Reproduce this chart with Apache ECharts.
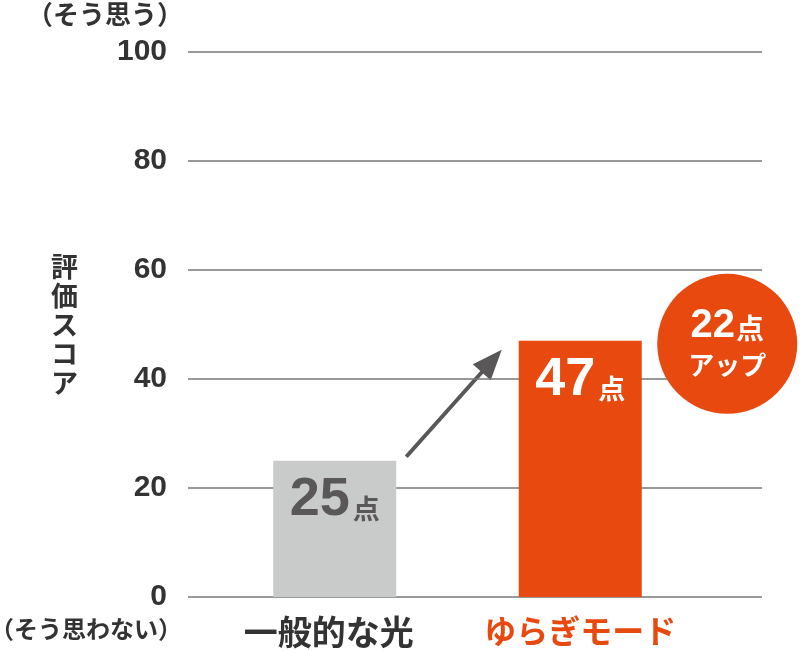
<!DOCTYPE html>
<html>
<head>
<meta charset="utf-8">
<script src="https://cdn.jsdelivr.net/npm/echarts@6/dist/echarts.min.js"></script>
<style>html,body{margin:0;padding:0;background:#fff}#c{width:800px;height:651px}</style>
</head>
<body>
<div id="c"></div>
<script>
const categories = ['一般的な光', 'ゆらぎモード'];
const values = [25, 47];
const yTicks = [0, 20, 40, 60, 80, 100];
const gainText = ['22', '点', 'アップ'];
const yAxisName = '評価スコア';
const topNote = '（そう思う）';
const bottomNote = '（そう思わない）';

const FONT = "'Liberation Sans', 'Noto Sans CJK JP', sans-serif";
const JP = "'Noto Sans CJK JP', sans-serif";
const ORANGE = '#e8490f';
const GRAY = '#c9caca';
const DARK = '#333333';
const MID = '#595757';

const chart = echarts.init(document.getElementById('c'), null, {renderer: 'canvas'});
function notes() {
  return [
    {type: 'text', right: 617, top: 1, style: {text: topNote, font: 'bold 26px ' + JP, fill: DARK}},
    {type: 'text', right: 618, top: 617, style: {text: bottomNote, font: 'bold 24px ' + JP, fill: DARK}}
  ];
}
const option = {
  animation: false,
  grid: [
    {left: 188, right: 38, top: 52, bottom: 54},
    {left: 212, right: 97, top: 52, bottom: 54}
  ],
  xAxis: [
    {type: 'value', gridIndex: 0, show: false, min: 0, max: 1},
    {type: 'category', gridIndex: 1, data: categories,
      axisLine: {show: false}, axisTick: {show: false},
      axisLabel: {
        interval: 0, margin: 18,
        formatter: function (v) { return v === categories[1] ? '{o|' + v + '}' : '{d|' + v + '}'; },
        rich: {
          d: {fontSize: 34, fontWeight: 'bold', fontFamily: JP, color: DARK, padding: [0, 12, 0, 0]},
          o: {fontSize: 32, fontWeight: 'bold', fontFamily: JP, color: ORANGE}
        }
      }
    }
  ],
  yAxis: [
    {type: 'value', gridIndex: 0, min: yTicks[0], max: yTicks[yTicks.length - 1], interval: 20,
      axisLine: {show: false}, axisTick: {show: false},
      splitLine: {lineStyle: {color: '#777', width: 1.5}},
      axisLabel: {margin: 21, fontSize: 30, fontWeight: 'bold', fontFamily: FONT, color: DARK},
      name: yAxisName.split('').join('\n'), nameLocation: 'middle', nameRotate: 0, nameGap: 110,
      nameTextStyle: {fontSize: 27, fontWeight: 'bold', fontFamily: JP, color: DARK, lineHeight: 29}
    },
    {type: 'value', gridIndex: 1, min: 0, max: 100, show: false}
  ],
  series: [{
    type: 'bar', xAxisIndex: 1, yAxisIndex: 1, barWidth: 123,
    data: values.map(function (v, i) {
      return {
        value: v,
        itemStyle: {color: i === 1 ? ORANGE : GRAY},
        label: {
          show: true, position: 'insideTop', distance: 12,
          formatter: '{n|' + v + '}{u|点}',
          rich: {
            n: {fontSize: 54, fontWeight: 'bold', fontFamily: FONT, color: i === 1 ? '#fff' : MID, verticalAlign: 'bottom', lineHeight: 54},
            u: {fontSize: 27, fontWeight: 'bold', fontFamily: JP, color: i === 1 ? '#fff' : MID, verticalAlign: 'bottom', lineHeight: 54, padding: [0, 0, 5, 3]}
          }
        }
      };
    }),
    markPoint: {
      symbol: 'circle', symbolSize: 140, symbolOffset: [147, 3],
      itemStyle: {color: ORANGE},
      data: [{coord: [categories[1], values[1]]}],
      label: {
        show: true, position: 'inside',
        formatter: '{a|' + gainText[0] + '}{b|' + gainText[1] + '}\n{c|' + gainText[2] + '}',
        rich: {
          a: {fontSize: 40, fontWeight: 'bold', fontFamily: FONT, color: '#fff', lineHeight: 42, verticalAlign: 'bottom'},
          b: {fontSize: 28, fontWeight: 'bold', fontFamily: JP, color: '#fff', lineHeight: 42, verticalAlign: 'bottom', padding: [0, 0, 3, 1]},
          c: {fontSize: 26, fontWeight: 'bold', fontFamily: JP, color: '#fff', lineHeight: 38}
        }
      }
    }
  }],
  graphic: notes()
};
chart.setOption(option);

// Arrow from top-right of first bar to near the top of the second bar, via the axes' scales
const p0 = chart.convertToPixel({xAxisIndex: 1, yAxisIndex: 1}, [0, values[0]]);
const p1 = chart.convertToPixel({xAxisIndex: 1, yAxisIndex: 1}, [1, values[1]]);
const half = 123 / 2;
const sx = p0[0] + half + 10, sy = p0[1] - 4;
const ex = p1[0] - half - 17, ey = p1[1] + 9;
const dx = ex - sx, dy = ey - sy, L = Math.sqrt(dx * dx + dy * dy);
const ux = dx / L, uy = dy / L, nx = -uy, ny = ux;
const headL = 30, headW = 12;
const bx = ex - ux * headL, by = ey - uy * headL;
chart.setOption({
  graphic: notes().concat([
    {type: 'line', shape: {x1: sx, y1: sy, x2: bx + ux * 4, y2: by + uy * 4}, style: {stroke: MID, lineWidth: 4}},
    {type: 'polygon', shape: {points: [[ex, ey], [bx + nx * headW, by + ny * headW], [bx - nx * headW, by - ny * headW]]}, style: {fill: MID}}
  ])
});
</script>
</body>
</html>
